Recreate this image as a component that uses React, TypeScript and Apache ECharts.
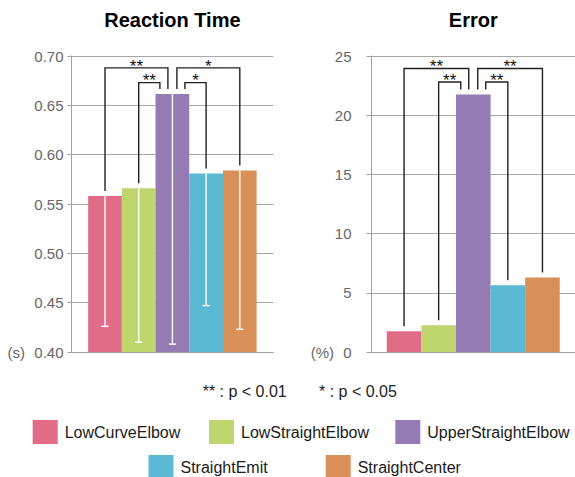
import { useEffect, useRef } from 'react';
import * as echarts from 'echarts';

const FONT = '"Liberation Sans", Arial, Helvetica, sans-serif';

const seriesNames = ['LowCurveElbow', 'LowStraightElbow', 'UpperStraightElbow', 'StraightEmit', 'StraightCenter'];
const seriesColors = ['#e06c88', '#bfd56d', '#947bb3', '#5cb9d3', '#d99058'];

// Reaction time (s): bar heights and lower ends of the error bars
const reactionTime = [0.558, 0.566, 0.6615, 0.581, 0.584];
const reactionLower = [0.426, 0.41, 0.408, 0.447, 0.423];

// Error (%)
const errorRate = [1.75, 2.25, 21.75, 5.63, 6.3];

const rtAxis = { min: 0.4, max: 0.7, interval: 0.05 };
const errAxis = { min: 0, max: 25, interval: 5 };

const chartTitles = ['Reaction Time', 'Error'];
const unitLabels = ['(s)', '(%)'];
const footnotes = ['** : p < 0.01', '* : p < 0.05'];

// significance brackets: bar indices, bracket level (data value), label
const rtBrackets = [
  { from: 0, to: 2, level: 0.688, label: '**' },
  { from: 1, to: 2, level: 0.673, label: '**' },
  { from: 2, to: 4, level: 0.688, label: '*' },
  { from: 2, to: 3, level: 0.673, label: '*' },
];
const errBrackets = [
  { from: 0, to: 2, level: 23.95, label: '**' },
  { from: 1, to: 2, level: 22.8, label: '**' },
  { from: 2, to: 4, level: 23.95, label: '**' },
  { from: 2, to: 3, level: 22.8, label: '**' },
];

const BAR_W = [33.7, 34.6];

export default function App() {
  const ref = useRef<HTMLDivElement>(null);

  useEffect(() => {
    if (!ref.current) return;
    const chart = echarts.init(ref.current, null, { renderer: 'svg' });

    const axisColor = '#a0a0a0';
    const makeY = (grid: number, ax: { min: number; max: number; interval: number }, margin: number, tickLen: number, fmt?: (v: number) => string) => ({
      gridIndex: grid,
      type: 'value',
      min: ax.min,
      max: ax.max,
      interval: ax.interval,
      axisLine: { show: true, lineStyle: { color: axisColor, width: 1 } },
      axisTick: { show: true, length: tickLen, lineStyle: { color: axisColor } },
      splitLine: { show: true, lineStyle: { color: '#a8a8a8', width: 1 } },
      axisLabel: { color: '#666', fontSize: 15, fontFamily: FONT, margin, formatter: fmt },
    });

    const legendPos = [
      { left: 32.7, top: 420 },
      { left: 209, top: 420 },
      { left: 395.3, top: 420 },
      { left: 148.5, top: 455 },
      { left: 325.7, top: 455 },
    ];

    const option: any = {
      animation: false,
      grid: [
        { left: 71.5, right: 301.7, top: 56, bottom: 125 },
        { left: 371.5, right: 0, top: 56, bottom: 125 },
      ],
      xAxis: [0, 1].map((g) => ({
        gridIndex: g,
        type: 'category',
        data: [''],
        axisLine: { show: true, lineStyle: { color: axisColor } },
        axisTick: { show: false },
        axisLabel: { show: false },
      })),
      yAxis: [
        makeY(0, rtAxis, 8, 4, (v: number) => v.toFixed(2)),
        makeY(1, errAxis, 20, 5),
      ],
      legend: seriesNames.map((n, i) => ({
        data: [n],
        left: legendPos[i].left,
        top: legendPos[i].top,
        padding: 0,
        itemWidth: 25,
        itemHeight: 24,
        icon: 'rect',
        selectedMode: false,
        textStyle: { fontSize: 16, color: '#1a1a1a', fontFamily: FONT, padding: [0, 0, 0, 2] },
      })),
      series: [
        ...seriesNames.map((n, i) => ({
          type: 'bar',
          name: n,
          xAxisIndex: 0,
          yAxisIndex: 0,
          data: [reactionTime[i]],
          barWidth: BAR_W[0],
          barGap: '0%',
          itemStyle: { color: seriesColors[i] },
          emphasis: { disabled: true },
        })),
        ...seriesNames.map((n, i) => ({
          type: 'bar',
          name: n,
          xAxisIndex: 1,
          yAxisIndex: 1,
          data: [errorRate[i]],
          barWidth: BAR_W[1],
          barGap: '0%',
          itemStyle: { color: seriesColors[i] },
          emphasis: { disabled: true },
        })),
      ],
    };
    chart.setOption(option);

    const toPx = (g: number, v: number) =>
      chart.convertToPixel({ xAxisIndex: g, yAxisIndex: g } as any, [0, v]) as number[];
    const barX = (g: number, i: number) => toPx(g, 0)[0] + (i - 2) * BAR_W[g];

    const els: any[] = [];
    const text = (x: number, y: number, t: string, font: string, fill: string, align: string, vAlign = 'middle') =>
      els.push({ type: 'text', x, y, z: 100, style: { text: t, font, fill, align, verticalAlign: vAlign } });

    // titles
    chartTitles.forEach((t, g) => text(barX(g, 2), 20, t, `bold 20px ${FONT}`, '#000', 'center'));
    // units
    text(25, toPx(0, rtAxis.min)[1], unitLabels[0], `15px ${FONT}`, '#666', 'right');
    text(334, toPx(1, errAxis.min)[1], unitLabels[1], `15px ${FONT}`, '#666', 'right');
    // footnote
    text(202.7, 391, footnotes[0], `16px ${FONT}`, '#222', 'left');
    text(319, 391, footnotes[1], `16px ${FONT}`, '#222', 'left');

    // error bars (reaction time)
    reactionTime.forEach((v, i) => {
      const x = barX(0, i);
      const yT = toPx(0, v)[1];
      const yB = toPx(0, reactionLower[i])[1];
      const st = { stroke: '#ffffff', lineWidth: 1.5, opacity: 0.92 };
      els.push({ type: 'line', z: 90, shape: { x1: x, y1: yT, x2: x, y2: yB }, style: st });
      els.push({ type: 'line', z: 90, shape: { x1: x - 3.6, y1: yB, x2: x + 3.6, y2: yB }, style: st });
    });

    // brackets
    const drawBrackets = (g: number, vals: number[], brs: typeof rtBrackets) => {
      const peak = vals.indexOf(Math.max(...vals));
      brs.forEach((b) => {
        const off = Math.abs(b.to - b.from) >= 2 ? 4.5 : 12.5;
        const xL = barX(g, b.from) + (b.from === peak ? off : 0);
        const xR = barX(g, b.to) - (b.to === peak ? off : 0);
        const yLegL = toPx(g, vals[b.from])[1] - 5;
        const yLegR = toPx(g, vals[b.to])[1] - 5;
        const yTop = toPx(g, b.level)[1];
        els.push({
          type: 'polyline',
          z: 95,
          shape: { points: [[xL, yLegL], [xL, yTop], [xR, yTop], [xR, yLegR]] },
          style: { stroke: '#222', lineWidth: 1.4, fill: null },
        });
        text((xL + xR) / 2, yTop - 1.8, b.label, `17px ${FONT}`, '#111', 'center');
      });
    };
    drawBrackets(0, reactionTime, rtBrackets);
    drawBrackets(1, errorRate, errBrackets);

    chart.setOption({ graphic: { elements: els } });

    return () => chart.dispose();
  }, []);

  return <div ref={ref} style={{ position: 'absolute', left: 0, top: 0, width: 575, height: 477 }} />;
}
